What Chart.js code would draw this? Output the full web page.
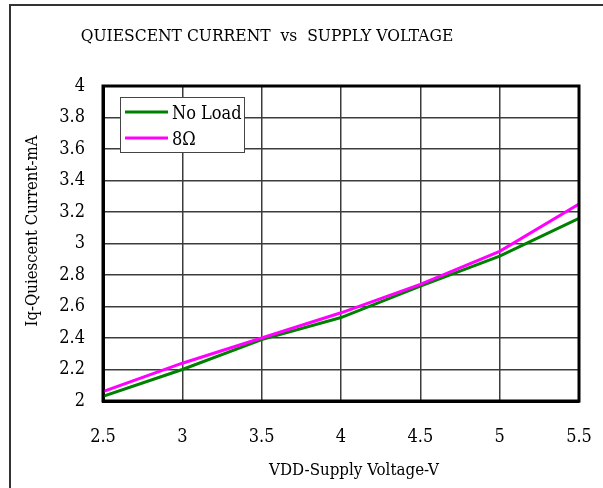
<!DOCTYPE html>
<html>
<head>
<meta charset="utf-8">
<script src="https://cdn.jsdelivr.net/npm/chart.js@4.4.0/dist/chart.umd.min.js"></script>
<style>
  html, body { margin: 0; padding: 0; background: #fff; }
</style>
</head>
<body>
<canvas id="myChart" width="603" height="488"></canvas>
<script>
// data
const voltage = [2.5, 3, 3.5, 4, 4.5, 5, 5.5];
const noLoad = [2.03, 2.2, 2.39, 2.53, 2.73, 2.92, 3.16];
const load8 = [2.06, 2.24, 2.40, 2.56, 2.74, 2.95, 3.25];
const seriesNames = ["No Load", "8\u03A9"];
const seriesColors = ["#008000", "#ff00ff"];
const chartTitle = "QUIESCENT CURRENT  vs  SUPPLY VOLTAGE";
const xTitle = "VDD-Supply Voltage-V";
const yTitle = "Iq-Quiescent Current-mA";

const FONT = "'DejaVu Serif Condensed', 'Liberation Serif', serif";
const fmt = v => String(+(+v).toFixed(1));

// frame, titles, plot box and the legend inside the plot
const boxPlugin = {
  id: "boxPlugin",
  beforeDraw(chart) {
    const ctx = chart.ctx;
    ctx.save();
    ctx.fillStyle = "#fff";
    ctx.fillRect(0, 0, chart.width, chart.height);
    ctx.strokeStyle = "#333";
    ctx.lineWidth = 2;
    ctx.beginPath();
    ctx.moveTo(10, chart.height);
    ctx.lineTo(10, 5);
    ctx.lineTo(chart.width, 5);
    ctx.stroke();

    ctx.fillStyle = "#000";
    ctx.textAlign = "center";
    ctx.textBaseline = "middle";
    ctx.font = "17.3px " + FONT;
    ctx.fillText(chartTitle, 267, 37);
    ctx.font = "16.8px " + FONT;
    ctx.fillText(xTitle, 354, 471);
    ctx.translate(33, 231);
    ctx.rotate(-Math.PI / 2);
    ctx.font = "16.6px " + FONT;
    ctx.fillText(yTitle, 0, 0);
    ctx.restore();
  },
  afterDraw(chart) {
    const ctx = chart.ctx;
    const a = chart.chartArea;
    ctx.save();
    ctx.strokeStyle = "#000";
    ctx.lineWidth = 3;
    ctx.strokeRect(a.left, a.top, a.right - a.left, a.bottom - a.top);

    // legend
    const bx = a.left + 17, by = a.top + 11, bw = 124, bh = 55;
    ctx.fillStyle = "#fff";
    ctx.fillRect(bx, by, bw, bh);
    ctx.strokeStyle = "#444";
    ctx.lineWidth = 1;
    ctx.strokeRect(bx + 0.5, by + 0.5, bw, bh);
    ctx.font = "18px " + FONT;
    ctx.textBaseline = "middle";
    ctx.textAlign = "left";
    chart.data.datasets.forEach((ds, i) => {
      const y = by + 15 + i * 26;
      ctx.strokeStyle = ds.borderColor;
      ctx.lineWidth = 3;
      ctx.beginPath();
      ctx.moveTo(bx + 5, y);
      ctx.lineTo(bx + 48, y);
      ctx.stroke();
      ctx.fillStyle = "#000";
      ctx.fillText(ds.label, bx + 52, y + 2.5);
    });
    ctx.restore();
  }
};

new Chart(document.getElementById("myChart"), {
  type: "line",
  data: {
    datasets: [
      {
        label: seriesNames[0],
        data: voltage.map((v, i) => ({ x: v, y: noLoad[i] })),
        borderColor: seriesColors[0],
        borderWidth: 3,
        pointRadius: 0,
        tension: 0,
        order: 1
      },
      {
        label: seriesNames[1],
        data: voltage.map((v, i) => ({ x: v, y: load8[i] })),
        borderColor: seriesColors[1],
        borderWidth: 3,
        pointRadius: 0,
        tension: 0,
        order: 0
      }
    ]
  },
  options: {
    responsive: false,
    animation: false,
    layout: { padding: { left: 0, right: 24, top: 86, bottom: 0 } },
    plugins: {
      legend: { display: false },
      tooltip: { enabled: false },
      title: { display: false }
    },
    scales: {
      x: {
        type: "linear",
        min: 2.5,
        max: 5.5,
        afterFit: s => { s.height = 87; s.paddingLeft = 0; s.paddingRight = 0; },
        ticks: {
          stepSize: 0.5,
          color: "#000",
          padding: 26,
          font: { family: FONT, size: 18 },
          callback: fmt,
          maxRotation: 0
        },
        grid: { color: "#3c3c3c", lineWidth: 1.5, drawTicks: false },
        border: { display: true, color: "#000", width: 3 }
      },
      y: {
        type: "linear",
        min: 2,
        max: 4,
        afterFit: s => { s.width = 103; s.paddingTop = 0; s.paddingBottom = 0; },
        ticks: {
          stepSize: 0.2,
          color: "#000",
          padding: 18,
          font: { family: FONT, size: 18 },
          callback: fmt
        },
        grid: { color: "#3c3c3c", lineWidth: 1.5, drawTicks: false },
        border: { display: true, color: "#000", width: 3 }
      }
    }
  },
  plugins: [boxPlugin]
});
</script>
</body>
</html>
